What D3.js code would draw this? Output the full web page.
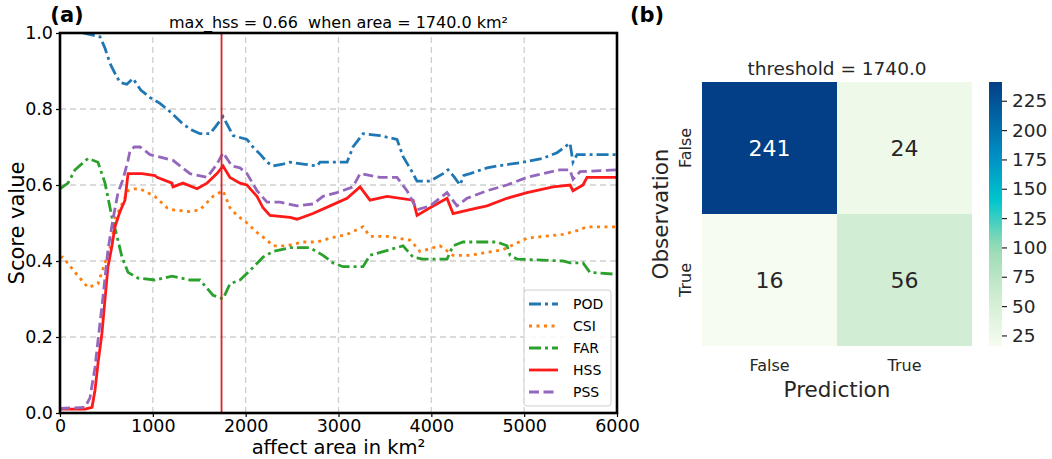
<!DOCTYPE html>
<html>
<head>
<meta charset="utf-8">
<script src="https://cdn.jsdelivr.net/npm/d3@7"></script>
<style>
  body { margin: 0; background: #fff; }
  text { font-family: "DejaVu Sans", sans-serif; fill: #000; }
</style>
</head>
<body>
<script>
// ---- datos (área en km², valor del score) ----
var podData = [[248,1.0],[431,0.99],[485,0.96],[539,0.92],[600,0.89],[646,0.87],[720,0.865],[786,0.88],[870,0.85],[970,0.83],[1077,0.815],[1200,0.79],[1325,0.76],[1420,0.745],[1508,0.735],[1616,0.735],[1680,0.755],[1756,0.78],[1864,0.73],[2014,0.72],[2079,0.70],[2160,0.68],[2230,0.66],[2295,0.65],[2400,0.655],[2478,0.66],[2620,0.655],[2769,0.65],[2801,0.66],[3092,0.66],[3156,0.70],[3264,0.735],[3447,0.73],[3630,0.72],[3695,0.675],[3780,0.64],[3846,0.61],[3986,0.61],[4126,0.63],[4180,0.64],[4250,0.62],[4309,0.60],[4350,0.625],[4417,0.63],[4600,0.645],[4708,0.65],[4988,0.66],[5200,0.67],[5354,0.685],[5494,0.71],[5526,0.66],[5569,0.68],[6000,0.68]]
var csiData = [[0,0.41],[32,0.41],[162,0.37],[302,0.33],[409,0.34],[485,0.395],[560,0.45],[592,0.51],[668,0.55],[733,0.585],[808,0.59],[862,0.59],[1023,0.57],[1153,0.54],[1206,0.535],[1400,0.53],[1508,0.535],[1648,0.57],[1756,0.585],[1831,0.54],[1907,0.52],[2014,0.50],[2122,0.475],[2230,0.455],[2295,0.44],[2445,0.44],[2618,0.45],[2769,0.45],[2909,0.46],[3092,0.47],[3264,0.49],[3339,0.465],[3523,0.465],[3770,0.455],[3846,0.435],[3878,0.425],[4093,0.44],[4234,0.415],[4417,0.415],[4772,0.43],[5031,0.46],[5418,0.47],[5569,0.48],[5677,0.49],[6000,0.49]]
var farData = [[0,0.59],[86,0.605],[162,0.64],[302,0.67],[409,0.66],[485,0.605],[560,0.515],[614,0.465],[668,0.41],[733,0.37],[840,0.355],[1023,0.35],[1206,0.36],[1400,0.35],[1508,0.35],[1648,0.31],[1756,0.30],[1831,0.34],[1939,0.35],[2047,0.375],[2187,0.41],[2295,0.425],[2478,0.435],[2693,0.435],[2833,0.415],[2941,0.395],[3049,0.385],[3264,0.385],[3339,0.415],[3555,0.43],[3695,0.44],[3803,0.41],[3910,0.405],[4169,0.405],[4234,0.44],[4341,0.45],[4708,0.45],[4815,0.44],[4848,0.415],[4923,0.405],[5418,0.40],[5494,0.395],[5634,0.395],[5709,0.37],[6000,0.365]]
var hssData = [[0,0.01],[269,0.01],[345,0.015],[377,0.06],[409,0.13],[452,0.21],[485,0.30],[517,0.385],[560,0.44],[592,0.49],[646,0.53],[700,0.56],[733,0.63],[883,0.63],[1023,0.625],[1045,0.62],[1206,0.605],[1217,0.595],[1325,0.605],[1476,0.59],[1584,0.605],[1691,0.63],[1756,0.65],[1831,0.62],[1939,0.605],[2014,0.60],[2122,0.57],[2187,0.54],[2262,0.52],[2478,0.515],[2553,0.51],[2725,0.525],[2909,0.545],[3092,0.565],[3232,0.595],[3339,0.56],[3523,0.57],[3803,0.56],[3846,0.52],[3986,0.54],[4169,0.565],[4234,0.525],[4417,0.535],[4600,0.545],[4815,0.565],[5031,0.58],[5311,0.595],[5494,0.60],[5526,0.585],[5634,0.60],[5677,0.62],[6000,0.62]]
var pssData = [[0,0.012],[269,0.015],[323,0.04],[377,0.12],[409,0.19],[463,0.305],[517,0.43],[571,0.51],[625,0.58],[679,0.615],[733,0.665],[754,0.69],[800,0.70],[862,0.70],[970,0.68],[1217,0.665],[1400,0.63],[1584,0.62],[1691,0.655],[1756,0.685],[1853,0.65],[1939,0.645],[2014,0.63],[2122,0.585],[2230,0.555],[2370,0.555],[2553,0.545],[2725,0.55],[2833,0.57],[2984,0.58],[3156,0.595],[3232,0.63],[3447,0.62],[3630,0.62],[3738,0.585],[3846,0.535],[3986,0.545],[4169,0.58],[4277,0.545],[4384,0.565],[4600,0.585],[4815,0.60],[5031,0.62],[5386,0.64],[5494,0.64],[5526,0.615],[5602,0.635],[6000,0.64]]

var seriesNames = ["POD", "CSI", "FAR", "HSS", "PSS"]
var xTicks = [0, 1000, 2000, 3000, 4000, 5000, 6000]
var yTicks = [0, 0.2, 0.4, 0.6, 0.8, 1.0]
var bestArea = 1740.0
var maxHss = 0.66

// matriz de confusión (filas = observación, columnas = predicción)
var classLabels = ["False", "True"]
var confusion = [[241, 24], [16, 56]]
var cbarTicks = [25, 50, 75, 100, 125, 150, 175, 200, 225]

// ---- estilos por serie ----
var estilos = {
    POD: { data: podData, color: "#1f77b4", dash: "12,4,3,4" },
    CSI: { data: csiData, color: "#ff7f0e", dash: "3,4.5" },
    FAR: { data: farData, color: "#2ca02c", dash: "12,4,3,4" },
    HSS: { data: hssData, color: "#ff1a1a", dash: null },
    PSS: { data: pssData, color: "#9467bd", dash: "10,4.5" }
}

var svg = d3.select("body").append("svg")
    .attr("width", 1052)
    .attr("height", 459)

// ================= panel (a) =================
var x = d3.scaleLinear().domain([0, 6000]).range([60, 617])
var y = d3.scaleLinear().domain([0, 1]).range([413, 33])

svg.append("defs").append("clipPath").attr("id", "clipA")
    .append("rect")
    .attr("x", x(0)).attr("y", y(1))
    .attr("width", x(6000) - x(0)).attr("height", y(0) - y(1))

// rejilla
var grid = svg.append("g")
grid.selectAll(".gx").data(xTicks.slice(1, -1)).enter().append("line")
    .attr("x1", d => x(d)).attr("x2", d => x(d))
    .attr("y1", y(0)).attr("y2", y(1))
    .style("stroke", "#cfcfcf").style("stroke-width", 1.3).style("stroke-dasharray", "6,4")
grid.selectAll(".gy").data(yTicks.slice(1, -1)).enter().append("line")
    .attr("x1", x(0)).attr("x2", x(6000))
    .attr("y1", d => y(d)).attr("y2", d => y(d))
    .style("stroke", "#cfcfcf").style("stroke-width", 1.3).style("stroke-dasharray", "6,4")

var linea = d3.line().x(d => x(d[0])).y(d => y(d[1]))

var lineas = svg.append("g").attr("clip-path", "url(#clipA)")
seriesNames.forEach(function(n) {
    var e = estilos[n]
    lineas.append("path")
        .datum(e.data)
        .attr("d", linea)
        .style("fill", "none")
        .style("stroke", e.color)
        .style("stroke-width", 2.8)
        .style("stroke-dasharray", e.dash)
})

// línea vertical del máximo HSS
lineas.append("line")
    .attr("x1", x(bestArea)).attr("x2", x(bestArea))
    .attr("y1", y(0)).attr("y2", y(1))
    .style("stroke", "#d62728").style("stroke-width", 1.8)

// ejes
var ejeX = svg.append("g")
    .attr("transform", "translate(0," + y(0) + ")")
    .call(d3.axisBottom(x).tickValues(xTicks).tickSize(4).tickPadding(3).tickFormat(d3.format("d")))
var ejeY = svg.append("g")
    .attr("transform", "translate(" + x(0) + ",0)")
    .call(d3.axisLeft(y).tickValues(yTicks).tickSize(4).tickPadding(3).tickFormat(d3.format(".1f")))
;[ejeX, ejeY].forEach(function(g) {
    g.select(".domain").remove()
    g.selectAll("text").style("font-size", "17.5px").style("font-family", "DejaVu Sans")
    g.selectAll("line").style("stroke", "#000").style("stroke-width", 1.2)
})

// marco
svg.append("rect")
    .attr("x", x(0)).attr("y", y(1))
    .attr("width", x(6000) - x(0)).attr("height", y(0) - y(1))
    .style("fill", "none").style("stroke", "#000").style("stroke-width", 2.6)

// textos
svg.append("text")
    .attr("x", (x(0) + x(6000)) / 2).attr("y", 454)
    .attr("text-anchor", "middle").style("font-size", "19.5px")
    .text("affect area in km²")
svg.append("text")
    .attr("transform", "translate(24," + ((y(0) + y(1)) / 2) + ") rotate(-90)")
    .attr("text-anchor", "middle").style("font-size", "21px")
    .text("Score value")
svg.append("text")
    .attr("x", (x(0) + x(6000)) / 2).attr("y", 28)
    .attr("text-anchor", "middle").style("font-size", "16px")
    .text("max_hss = " + maxHss.toFixed(2) + "\u00a0\u00a0when area = " + bestArea.toFixed(1) + " km²")
svg.append("text")
    .attr("x", 67).attr("y", 22)
    .attr("text-anchor", "middle").style("font-size", "21px").style("font-weight", "bold")
    .text("(a)")

// leyenda
var leyenda = svg.append("g").attr("transform", "translate(524,290)")
leyenda.append("rect")
    .attr("width", 87).attr("height", 116).attr("rx", 3)
    .style("fill", "#fff").style("fill-opacity", 0.85)
    .style("stroke", "#d0d0d0").style("stroke-width", 1)
seriesNames.forEach(function(n, i) {
    var e = estilos[n]
    var yy = 14 + i * 22
    leyenda.append("line")
        .attr("x1", 5).attr("x2", 34).attr("y1", yy).attr("y2", yy)
        .style("stroke", e.color).style("stroke-width", 2.8)
        .style("stroke-dasharray", e.dash)
    leyenda.append("text")
        .attr("x", 49).attr("y", yy + 5)
        .style("font-size", "14px")
        .text(n)
})

// ================= panel (b) =================
var xb = d3.scaleBand().domain(classLabels).range([702, 972])
var yb = d3.scaleBand().domain(classLabels).range([82, 346])

var vmin = d3.min(confusion.flat()), vmax = d3.max(confusion.flat())
var escalaColor = d3.scaleLinear()
    .domain([vmin, 60, 100, 140, 175, vmax])
    .range(["#f7fcf0", "#cdecd0", "#99dbb2", "#00c6cc", "#0093c6", "#023f86"])
    .interpolate(d3.interpolateRgb)

var celdas = []
confusion.forEach(function(fila, i) {
    fila.forEach(function(v, j) {
        celdas.push({ obs: classLabels[i], pred: classLabels[j], v: v })
    })
})

svg.append("g").selectAll("rect").data(celdas).enter().append("rect")
    .attr("x", d => xb(d.pred)).attr("y", d => yb(d.obs))
    .attr("width", xb.bandwidth()).attr("height", yb.bandwidth())
    .style("fill", d => escalaColor(d.v))

svg.append("g").selectAll("text").data(celdas).enter().append("text")
    .attr("x", d => xb(d.pred) + xb.bandwidth() / 2)
    .attr("y", d => yb(d.obs) + yb.bandwidth() / 2)
    .attr("dy", "0.36em")
    .attr("text-anchor", "middle")
    .style("font-size", "22px")
    .style("fill", d => d.v > 150 ? "#fff" : "#262626")
    .text(d => d.v)

// etiquetas de las clases
svg.append("g").selectAll("text").data(classLabels).enter().append("text")
    .attr("x", d => xb(d) + xb.bandwidth() / 2).attr("y", 371)
    .attr("text-anchor", "middle").style("font-size", "16px").style("fill", "#262626")
    .text(d => d)
svg.append("g").selectAll("text").data(classLabels).enter().append("text")
    .attr("transform", d => "translate(691," + (yb(d) + yb.bandwidth() / 2) + ") rotate(-90)")
    .attr("text-anchor", "middle").style("font-size", "16px").style("fill", "#262626")
    .text(d => d)

svg.append("text")
    .attr("x", 837).attr("y", 397)
    .attr("text-anchor", "middle").style("font-size", "21.5px").style("fill", "#262626")
    .text("Prediction")
svg.append("text")
    .attr("transform", "translate(668,214) rotate(-90)")
    .attr("text-anchor", "middle").style("font-size", "21.5px").style("fill", "#262626")
    .text("Observation")
svg.append("text")
    .attr("x", 837).attr("y", 75)
    .attr("text-anchor", "middle").style("font-size", "18.5px").style("fill", "#262626")
    .text("threshold = " + bestArea.toFixed(1))
svg.append("text")
    .attr("x", 647).attr("y", 22)
    .attr("text-anchor", "middle").style("font-size", "21px").style("font-weight", "bold")
    .text("(b)")

// barra de color
var yc = d3.scaleLinear().domain([vmin, vmax]).range([346, 82])
var grad = svg.select("defs").append("linearGradient")
    .attr("id", "cbar").attr("x1", 0).attr("x2", 0).attr("y1", 1).attr("y2", 0)
d3.range(0, 1.0001, 0.05).forEach(function(t) {
    grad.append("stop")
        .attr("offset", t)
        .attr("stop-color", escalaColor(vmin + t * (vmax - vmin)))
})
svg.append("rect")
    .attr("x", 989).attr("y", yc(vmax))
    .attr("width", 13).attr("height", yc(vmin) - yc(vmax))
    .style("fill", "url(#cbar)")

var ejeC = svg.append("g")
    .attr("transform", "translate(1002,0)")
    .call(d3.axisRight(yc).tickValues(cbarTicks).tickSize(5).tickPadding(5))
ejeC.select(".domain").remove()
ejeC.selectAll("line").style("stroke", "#262626").style("stroke-width", 1.2)
ejeC.selectAll("text").style("font-size", "18.5px").style("font-family", "DejaVu Sans").style("fill", "#262626")
</script>
</body>
</html>
